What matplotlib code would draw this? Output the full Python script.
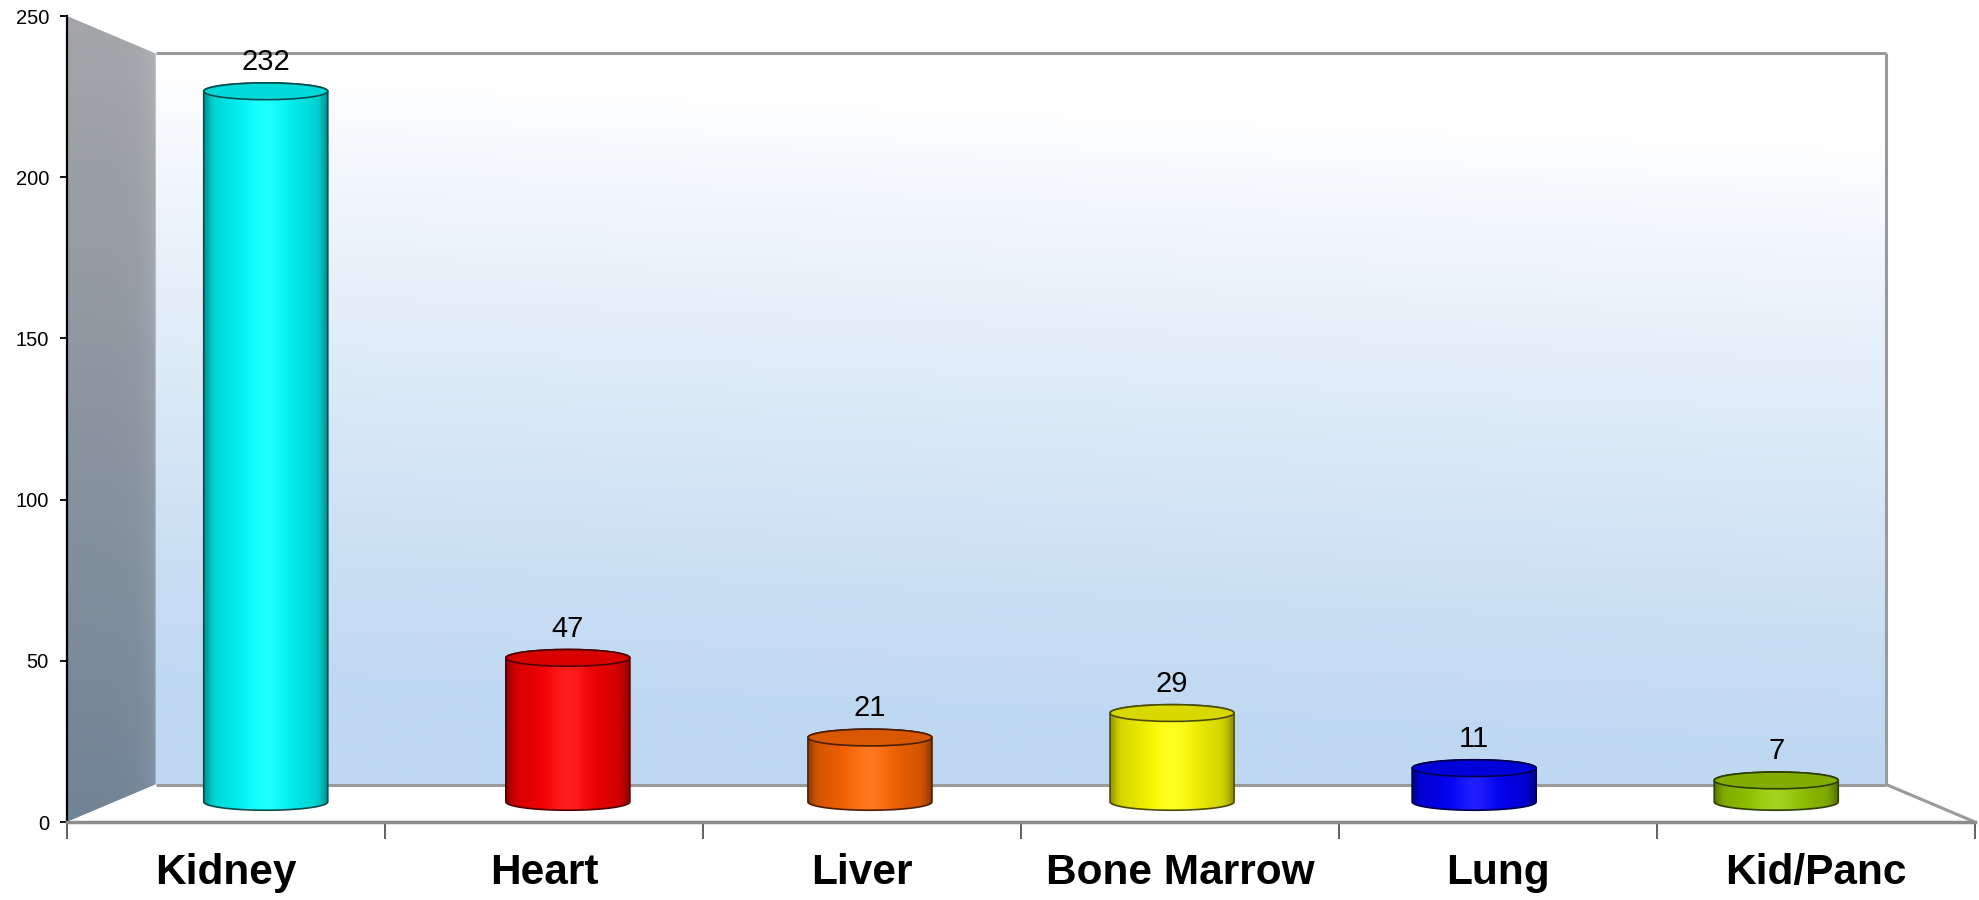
import numpy as np
import matplotlib
matplotlib.use("Agg")
import matplotlib.pyplot as plt
from matplotlib.path import Path
from matplotlib.patches import PathPatch, Polygon, Ellipse
from matplotlib.colors import to_rgb

plt.rcParams['font.family'] = ['Liberation Sans', 'DejaVu Sans']

categories = ["Kidney", "Heart", "Liver", "Bone Marrow", "Lung", "Kid/Panc"]
values = [232, 47, 21, 29, 11, 7]
bar_colors = ["#00ffff", "#ff0000", "#ff6600", "#ffff00", "#0000ff", "#99cc00"]
y_ticks = [0, 50, 100, 150, 200, 250]

W, H = 1979, 900
fig = plt.figure(figsize=(W / 100, H / 100), dpi=100)
ax = fig.add_axes([67 / W, (H - 822) / H, 1908 / W, 806 / H])
n = len(categories)
ymax = 250
ax.set_xlim(0, n)
ax.set_ylim(0, ymax)

cx0, cy0 = n / 2, ymax / 2
s_back = 0.907
s_bar = 0.95


def proj(x, y, s):
    return cx0 + (x - cx0) * s, cy0 + (y - cy0) * s


# back-wall corners
bx0, by0 = proj(0, 0, s_back)
bx1, by1 = proj(n, ymax, s_back)

# back wall gradient
ny, nx = 200, 300
yy = np.linspace(0, 1, ny)[:, None]  # 0 top, 1 bottom
xx = np.linspace(0, 1, nx)[None, :]
t = np.clip(yy * 1.2 - 0.15 + (1 - xx) * 0.12, 0, 1) ** 0.85
top_c = np.array([1.0, 1.0, 1.0])
bot_c = np.array(to_rgb("#bfd8f1"))
img = top_c[None, None, :] * (1 - t[..., None]) + bot_c[None, None, :] * t[..., None]
ax.imshow(img, extent=(bx0, bx1, by0, by1), origin="upper", aspect="auto",
          interpolation="bilinear", zorder=0)

# left wall
lw_poly = [(0, 0), (0, ymax), (bx0, by1), (bx0, by0)]
lw_patch = Polygon(lw_poly, closed=True, facecolor="none", edgecolor="none")
ax.add_patch(lw_patch)
yy2 = np.linspace(0, 1, 200)[:, None]
xx2 = np.linspace(0, 1, 50)[None, :]
c_top = np.array(to_rgb("#a4a6a9"))
c_bot = np.array(to_rgb("#718396"))
tt = yy2 + 0 * xx2
limg = c_top[None, None, :] * (1 - tt[..., None]) + c_bot[None, None, :] * tt[..., None]
limg = limg + (xx2[..., None] ** 6) * 0.05
limg = np.clip(limg, 0, 1)
im = ax.imshow(limg, extent=(0, bx0, 0, ymax), origin="upper", aspect="auto",
               interpolation="bilinear", zorder=0.5)
im.set_clip_path(lw_patch)

# floor
floor = Polygon([(0, 0), (bx0, by0), (bx1, by0), (n, 0)], closed=True,
                facecolor="white", edgecolor="none", zorder=0.6)
ax.add_patch(floor)
edge_kw = dict(color="#9a9a9a", lw=2.2, solid_capstyle="butt", zorder=0.7)
ax.plot([bx0, bx1], [by0, by0], **edge_kw)
ax.plot([bx1, n], [by0, 0], **edge_kw)
ax.plot([bx1, bx1], [by0, by1], **edge_kw)
ax.plot([bx0, bx1], [by1, by1], **edge_kw)

# cylinders
half_w = 0.195
b = 2.6
y_base = proj(0, 0, s_bar)[1]
u = np.linspace(0, 1, 200)
prof = 0.80 + 0.20 * np.exp(-((u - 0.48) / 0.32) ** 2)
prof = prof - 0.22 * np.exp(-(u / 0.05) ** 2) - 0.25 * np.exp(-((1 - u) / 0.06) ** 2)
prof = np.clip(prof, 0, 1.0)
shine = 0.12 * np.exp(-((u - 0.5) / 0.15) ** 2)

for i, (cat, v, col) in enumerate(zip(categories, values, bar_colors)):
    cx = proj(i + 0.5, 0, s_bar)[0]
    ytop = proj(0, v, s_bar)[1]
    base = np.array(to_rgb(col))
    th1 = np.linspace(np.pi, 2 * np.pi, 60)
    th2 = np.linspace(0, np.pi, 60)
    verts = [(cx - half_w, ytop), (cx - half_w, y_base)]
    verts += [(cx + half_w * np.cos(a), y_base + b * np.sin(a)) for a in th1]
    verts += [(cx + half_w, ytop)]
    verts += [(cx + half_w * np.cos(a), ytop + b * np.sin(a)) for a in th2]
    verts += [verts[0]]
    path = Path(verts, closed=True)
    clip = PathPatch(path, facecolor="none", edgecolor="none", transform=ax.transData)
    ax.add_patch(clip)
    rgb = base[None, :] * prof[:, None] + shine[:, None] * (1 - base[None, :])
    rgb = np.clip(rgb, 0, 1)[None, :, :]
    bi = ax.imshow(rgb, extent=(cx - half_w, cx + half_w, y_base - b, ytop + b),
                   aspect="auto", interpolation="bilinear", zorder=2)
    bi.set_clip_path(clip)
    dark = base * 0.3
    ax.add_patch(PathPatch(path, facecolor="none", edgecolor=dark, lw=1.2, zorder=3))
    ax.add_patch(Ellipse((cx, ytop), 2 * half_w, 2 * b, facecolor=base * 0.85,
                         edgecolor=dark, lw=1.2, zorder=3))
    ax.annotate(str(v), (cx, ytop + b), xytext=(0, 7), textcoords="offset pixels",
                ha="center", va="bottom", fontsize=21, color="black", zorder=5)

# axes styling
for sp in ["top", "right"]:
    ax.spines[sp].set_visible(False)
ax.spines["left"].set_color("black")
ax.spines["left"].set_linewidth(1.6)
ax.spines["left"].set_zorder(4)
ax.spines["bottom"].set_color("#8c8c8c")
ax.spines["bottom"].set_linewidth(2.5)
ax.spines["bottom"].set_zorder(4)
ax.set_yticks(y_ticks)
ax.set_yticklabels([str(t) for t in y_ticks], fontsize=14.5)
ax.tick_params(axis="y", length=5, width=1.3, pad=8, color="black")
ax.set_xticks(np.arange(n + 1))
ax.set_xticklabels([])
ax.tick_params(axis="x", which="major", length=12, width=1.3, color="#555555")
ax.set_xticks(np.arange(n) + 0.5, minor=True)
ax.set_xticklabels(categories, minor=True, fontsize=30.5, fontweight="bold")
ax.tick_params(axis="x", which="minor", length=0, pad=22)
ax.patch.set_alpha(0)

fig.savefig("out.png", dpi=100, facecolor="white")
